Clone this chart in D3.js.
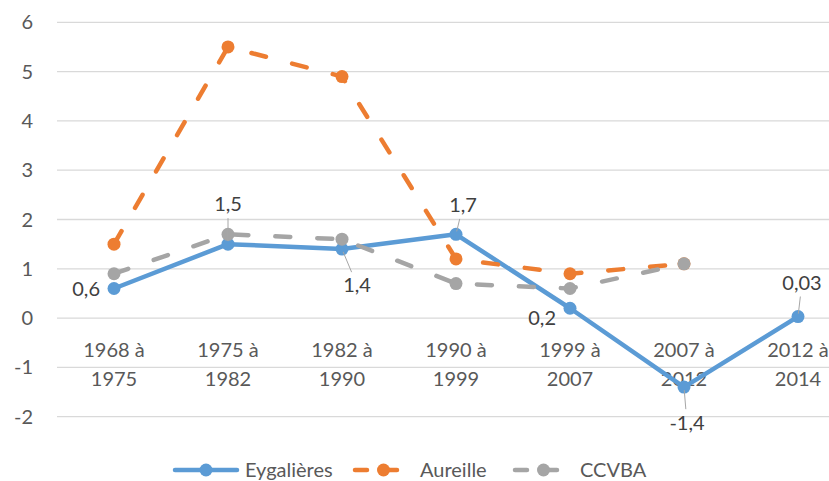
<!DOCTYPE html>
<html>
<head>
<meta charset="utf-8">
<script src="https://cdn.jsdelivr.net/npm/d3@7"></script>
<style>
  body { margin: 0; background: #fff; }
  svg { display: block; font-family: Lato, "Open Sans", sans-serif; }
</style>
</head>
<body>
<svg width="829" height="481"></svg>
<script>
// periods (two-line category labels)
const periodStart = ["1968 à", "1975 à", "1982 à", "1990 à", "1999 à", "2007 à", "2012 à"];
const periodEnd = ["1975", "1982", "1990", "1999", "2007", "2012", "2014"];

const eygalieres = [0.6, 1.5, 1.4, 1.7, 0.2, -1.4, 0.03];
const aureille = [1.5, 5.5, 4.9, 1.2, 0.9, 1.1, null];
const ccvba = [0.9, 1.7, 1.6, 0.7, 0.6, 1.1, null];

const yTicks = [-2, -1, 0, 1, 2, 3, 4, 5, 6];

const series = [
  { name: "Eygalières", values: eygalieres, color: "#5b9bd5", dash: null },
  { name: "Aureille", values: aureille, color: "#ed7d31", dash: "15,27" },
  { name: "CCVBA", values: ccvba, color: "#a5a5a5", dash: "15,27" }
];

// label placement for the Eygalières data labels (offsets from the point)
const labelPos = [
  { dx: -14, dy: 0, anchor: "end", leader: false },
  { dx: 0, dy: -40, anchor: "middle", leader: true },
  { dx: 15, dy: 36, anchor: "middle", leader: true },
  { dx: 7, dy: -29, anchor: "middle", leader: true },
  { dx: -14, dy: 10, anchor: "end", leader: false },
  { dx: 3, dy: 36, anchor: "middle", leader: true },
  { dx: 4, dy: -34, anchor: "middle", leader: true }
];

const svg = d3.select("svg");
const textColor = "#595959";

const x = d3.scalePoint()
  .domain(d3.range(periodStart.length))
  .range([57, 855])
  .padding(0.5);

const y = d3.scaleLinear()
  .domain([-2, 6])
  .range([416.7, 22.3]);

// gridlines
svg.append("g")
  .selectAll("line")
  .data(yTicks)
  .enter().append("line")
  .attr("x1", 57)
  .attr("x2", 829)
  .attr("y1", d => y(d))
  .attr("y2", d => y(d))
  .attr("stroke", "#d9d9d9")
  .attr("stroke-width", 1.3);

// y labels
svg.append("g")
  .selectAll("text")
  .data(yTicks)
  .enter().append("text")
  .attr("x", 33)
  .attr("y", d => y(d))
  .attr("dy", "0.35em")
  .attr("text-anchor", "end")
  .attr("font-size", 20)
  .attr("fill", textColor)
  .text(d => d);

// x labels
const xl = svg.append("g")
  .selectAll("text")
  .data(periodStart)
  .enter().append("text")
  .attr("text-anchor", "middle")
  .attr("font-size", 20)
  .attr("fill", textColor);
xl.append("tspan")
  .attr("x", (d, i) => x(i))
  .attr("y", 357)
  .text(d => d);
xl.append("tspan")
  .attr("x", (d, i) => x(i))
  .attr("y", 386)
  .text((d, i) => periodEnd[i]);

const line = d3.line()
  .defined(d => d != null)
  .x((d, i) => x(i))
  .y(d => y(d));

series.forEach(s => {
  const g = svg.append("g");
  g.append("path")
    .datum(s.values)
    .attr("d", line)
    .attr("fill", "none")
    .attr("stroke", s.color)
    .attr("stroke-width", 4.5)
    .attr("stroke-linecap", s.dash ? "round" : "butt")
    .attr("stroke-linejoin", "round")
    .attr("stroke-dasharray", s.dash);
  g.selectAll("circle")
    .data(s.values.map((v, i) => ({ v, i })).filter(d => d.v != null))
    .enter().append("circle")
    .attr("cx", d => x(d.i))
    .attr("cy", d => y(d.v))
    .attr("r", 6.5)
    .attr("fill", s.color);
});

// data labels for Eygalières
const lbl = svg.append("g");
eygalieres.forEach((v, i) => {
  const p = labelPos[i];
  const px = x(i), py = y(v);
  if (p.leader) {
    const len = Math.hypot(p.dx, p.dy);
    const ux = p.dx / len, uy = p.dy / len;
    lbl.append("line")
      .attr("x1", px + ux * 3)
      .attr("y1", py + uy * 3)
      .attr("x2", px + ux * (len - 14))
      .attr("y2", py + uy * (len - 14))
      .attr("stroke", "#a6a6a6")
      .attr("stroke-width", 1);
  }
  lbl.append("text")
    .attr("x", px + p.dx)
    .attr("y", py + p.dy)
    .attr("dy", "0.35em")
    .attr("text-anchor", p.anchor)
    .attr("font-size", 20)
    .attr("fill", "#404040")
    .text(String(v).replace(".", ","));
});

// legend
const legendX = [175, 355, 515];
const legend = svg.append("g");
series.forEach((s, i) => {
  const lx = legendX[i];
  const w = i === 0 ? 62 : 57;
  legend.append("line")
    .attr("x1", lx).attr("x2", lx + w)
    .attr("y1", 470).attr("y2", 470)
    .attr("stroke", s.color)
    .attr("stroke-width", 4.5)
    .attr("stroke-linecap", "round")
    .attr("stroke-dasharray", s.dash ? "12,18" : null);
  legend.append("circle")
    .attr("cx", lx + w / 2)
    .attr("cy", 470)
    .attr("r", 6.5)
    .attr("fill", s.color);
  legend.append("text")
    .attr("x", lx + w + 8)
    .attr("y", 470)
    .attr("dy", "0.35em")
    .attr("font-size", 20)
    .attr("fill", textColor)
    .text(s.name);
});
</script>
</body>
</html>
